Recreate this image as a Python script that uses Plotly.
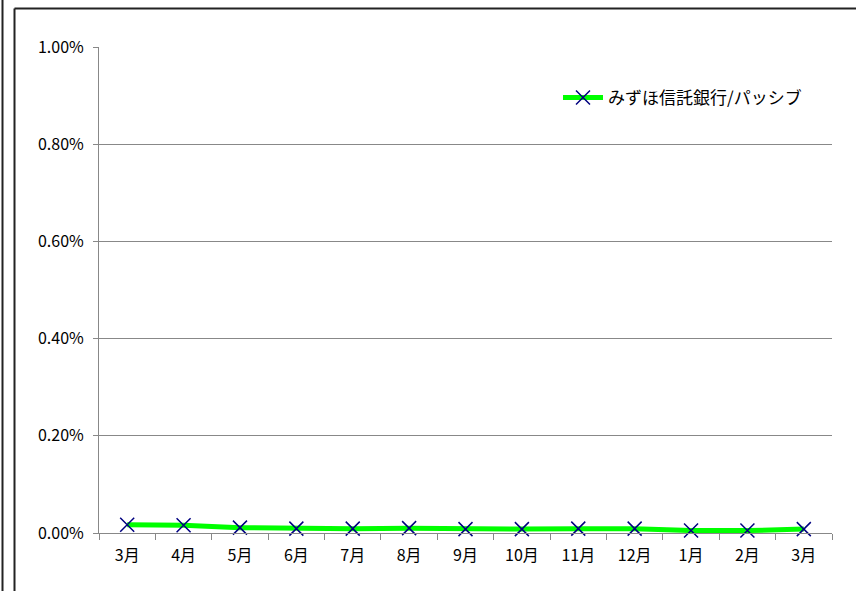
import plotly.graph_objects as go

# ---------------------------------------------------------------------------
# data
# ---------------------------------------------------------------------------
months = ["3月", "4月", "5月", "6月", "7月", "8月", "9月",
          "10月", "11月", "12月", "1月", "2月", "3月"]
values = [0.00017, 0.00016, 0.00011, 0.00009, 0.00009, 0.00010, 0.00008,
          0.00008, 0.00009, 0.00009, 0.00005, 0.00005, 0.00008]
series_name = "みずほ信託銀行/パッシブ"
y_ticks = [0, 0.002, 0.004, 0.006, 0.008, 0.010]

W, H = 856, 591
L, R, T, B = 99, 24, 47, 58
FONT = "Noto Sans CJK JP"


def px(x):
    return (x - L) / (W - L - R)


def py(y):
    return (H - B - y) / (H - T - B)


xs = list(range(len(months)))

fig = go.Figure()
fig.add_trace(go.Scatter(
    x=xs, y=values,
    mode="lines+markers",
    name=series_name,
    line=dict(color="#00FF00", width=5),
    marker=dict(symbol="x-thin", size=14, color="#000080",
                line=dict(color="#000080", width=1.5)),
    cliponaxis=False,
))

# outer frame lines
frame = dict(color="#222222", width=2)
fig.add_shape(type="line", xref="paper", yref="paper",
              x0=px(2.5), x1=px(2.5), y0=py(-5), y1=py(600), line=frame)
fig.add_shape(type="line", xref="paper", yref="paper",
              x0=px(14.5), x1=px(14.5), y0=py(8.5), y1=py(600), line=frame)
fig.add_shape(type="line", xref="paper", yref="paper",
              x0=px(14.5), x1=px(870), y0=py(8.5), y1=py(8.5), line=frame)

fig.update_layout(
    width=W, height=H,
    margin=dict(l=L, r=R, t=T, b=B),
    paper_bgcolor="white",
    plot_bgcolor="white",
    font=dict(family=FONT, size=16, color="black"),
    showlegend=True,
    legend=dict(x=px(558), y=py(98), xanchor="left", yanchor="middle",
                bgcolor="rgba(0,0,0,0)", font=dict(size=17),
                itemwidth=40),
    xaxis=dict(
        range=[-0.5, len(months) - 0.5],
        tickmode="array", tickvals=xs, ticktext=months,
        ticks="", showgrid=False, zeroline=False,
        showline=True, linecolor="#888888", linewidth=1,
        minor=dict(ticks="outside", tick0=-0.5, dtick=1, ticklen=6,
                   tickcolor="#888888", showgrid=False),
        tickfont=dict(size=16),
        ticklabelstandoff=8,
    ),
    yaxis=dict(
        range=[0, 0.01],
        tickmode="array", tickvals=y_ticks, tickformat=".2%",
        ticks="outside", ticklen=5, tickcolor="#888888",
        showgrid=True, gridcolor="#888888", gridwidth=1,
        zeroline=False,
        showline=True, linecolor="#888888", linewidth=1,
        tickfont=dict(size=16),
        ticklabelstandoff=6,
    ),
)

fig.write_html("out.html",
               config={"displayModeBar": False},
               post_script="document.body.style.margin='0';"
                           "document.body.style.overflow='hidden';")
